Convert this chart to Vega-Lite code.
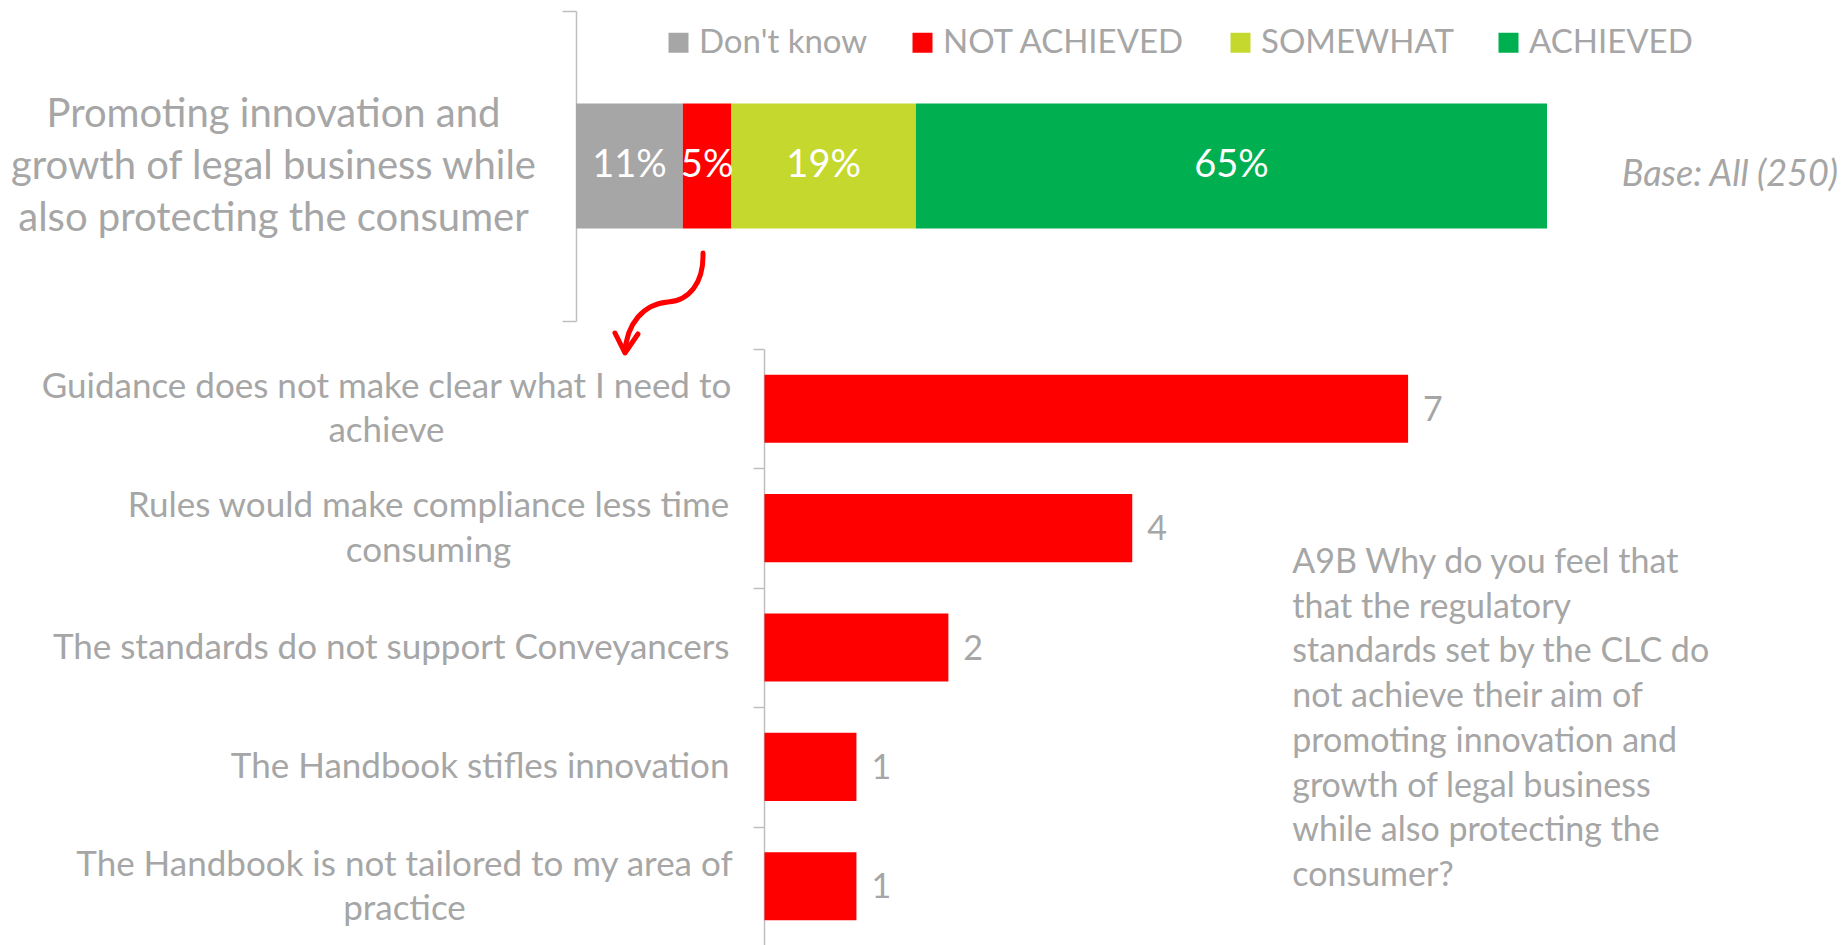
{
  "$schema": "https://vega.github.io/schema/vega-lite/v6.json",
  "background": "white",
  "padding": {"left": 9, "top": 10, "right": 0, "bottom": 0},
  "config": {
    "view": {"stroke": null},
    "font": "Lato",
    "axis": {"labelFont": "Lato"},
    "legend": {"labelFont": "Lato"}
  },
  "spacing": 28,
  "bounds": "flush",
  "vconcat": [
    {
      "width": 971,
      "height": 310,
      "data": {
        "values": [
          {"cat": "Promoting innovation and|growth of legal business while|also protecting the consumer", "resp": "Don't know", "pct": 0.11, "k": 1},
          {"cat": "Promoting innovation and|growth of legal business while|also protecting the consumer", "resp": "NOT ACHIEVED", "pct": 0.05, "k": 2},
          {"cat": "Promoting innovation and|growth of legal business while|also protecting the consumer", "resp": "SOMEWHAT", "pct": 0.19, "k": 3},
          {"cat": "Promoting innovation and|growth of legal business while|also protecting the consumer", "resp": "ACHIEVED", "pct": 0.65, "k": 4}
        ]
      },
      "encoding": {
        "y": {
          "field": "cat",
          "type": "nominal",
          "scale": {"paddingInner": 0, "paddingOuter": 0},
          "axis": {
            "title": null,
            "labelExpr": "split(datum.label, '|')",
            "labelAlign": "center",
            "labelBaseline": "middle",
            "labelPadding": 289,
            "labelLimit": 0,
            "labelFontSize": {"condition": {"test": "datum.label == ''", "value": 0}, "value": 40},
            "labelOffset": {"condition": {"test": "datum.label != ''", "value": -52}, "value": 0},
            "labelLineHeight": 52,
            "labelColor": "#A6A6A6",
            "tickBand": "extent",
            "tickSize": 14,
            "tickColor": "#BFBFBF",
            "tickWidth": 1.5,
            "domainColor": "#BFBFBF",
            "domainWidth": 1.5
          }
        }
      },
      "layer": [
        {
          "mark": {"type": "bar", "height": {"band": 0.403}},
          "encoding": {
            "x": {"field": "pct", "type": "quantitative", "stack": "zero", "scale": {"domain": [0, 1], "nice": false}, "axis": null},
            "order": {"field": "k", "type": "quantitative"},
            "color": {
              "field": "resp",
              "type": "nominal",
              "scale": {
                "domain": ["Don't know", "NOT ACHIEVED", "SOMEWHAT", "ACHIEVED"],
                "range": ["#A6A6A6", "#FF0000", "#C4D82E", "#00B050"]
              },
              "legend": {
                "orient": "none",
                "legendX": 86,
                "legendY": 15,
                "direction": "horizontal",
                "title": null,
                "padding": 0,
                "symbolType": "square",
                "symbolSize": 400,
                "symbolStrokeWidth": 0,
                "labelFontSize": 33,
                "labelColor": "#A6A6A6",
                "labelOffset": 4,
                "columnPadding": 38,
                "labelLimit": 0
              }
            }
          }
        },
        {
          "mark": {"type": "text", "color": "white", "fontSize": 38, "baseline": "middle", "align": "center"},
          "encoding": {
            "x": {"field": "pct", "type": "quantitative", "stack": "zero", "bandPosition": 0.5, "axis": null},
            "order": {"field": "k", "type": "quantitative"},
            "text": {"field": "pct", "type": "quantitative", "format": ".0%"}
          }
        },
        {
          "data": {"values": [{"note": "Base: All (250)"}]},
          "mark": {"type": "text", "color": "#A6A6A6", "fontSize": 36, "fontStyle": "italic", "align": "left", "baseline": "middle", "dy": 9},
          "encoding": {
            "x": {"datum": 1.077},
            "y": {"datum": "Promoting innovation and|growth of legal business while|also protecting the consumer"},
            "text": {"field": "note"}
          }
        },
        {
          "data": {"values": [{"arrow": "NOT ACHIEVED"}]},
          "mark": {
            "type": "point",
            "shape": "M0.78,-1 C0.8,-0.4 0.5,-0.05 0.08,-0.02 C-0.4,0.02 -0.75,0.4 -0.78,1 M-0.98,0.6 L-0.78,1 L-0.52,0.62",
            "size": 10000,
            "filled": false,
            "fill": null,
            "stroke": "#FF0000",
            "strokeWidth": 5,
            "strokeCap": "round",
            "strokeJoin": "round",
            "opacity": 1,
            "yOffset": 137
          },
          "encoding": {
            "x": {"datum": 0.0906},
            "y": {"datum": "Promoting innovation and|growth of legal business while|also protecting the consumer"}
          }
        }
      ]
    },
    {
      "width": 970,
      "height": 597,
      "data": {
        "values": [
          {"reason": "Guidance does not make clear what I need to|achieve", "n": 7},
          {"reason": "Rules would make compliance less time|consuming", "n": 4},
          {"reason": "The standards do not support Conveyancers", "n": 2},
          {"reason": "The Handbook stifles innovation", "n": 1},
          {"reason": "The Handbook is not tailored to my area of|practice", "n": 1}
        ]
      },
      "encoding": {
        "y": {
          "field": "reason",
          "type": "nominal",
          "sort": null,
          "scale": {"paddingInner": 0, "paddingOuter": 0},
          "axis": {
            "title": null,
            "offset": -188,
            "labelExpr": "split(datum.label, '|')",
            "labelAlign": {"condition": {"test": "datum.label && indexof(datum.label, '|') >= 0", "value": "center"}, "value": "right"},
            "labelBaseline": "middle",
            "labelPadding": {
              "condition": [
                {"test": "datum.label == 'Guidance does not make clear what I need to|achieve'", "value": 367},
                {"test": "datum.label == 'Rules would make compliance less time|consuming'", "value": 325},
                {"test": "datum.label == 'The Handbook is not tailored to my area of|practice'", "value": 349}
              ],
              "value": 24
            },
            "labelOffset": {"condition": {"test": "datum.label && indexof(datum.label, '|') >= 0", "value": -22.3}, "value": 0},
            "labelLimit": 0,
            "labelFontSize": {"condition": {"test": "datum.label == ''", "value": 0}, "value": 35},
            "labelLineHeight": 44.6,
            "labelColor": "#A6A6A6",
            "tickBand": "extent",
            "tickSize": 11,
            "tickColor": "#BFBFBF",
            "tickWidth": 1.5,
            "domainColor": "#BFBFBF",
            "domainWidth": 1.5
          }
        }
      },
      "layer": [
        {
          "mark": {"type": "bar", "color": "#FF0000", "height": {"band": 0.57}},
          "encoding": {
            "x": {"field": "n", "type": "quantitative", "scale": {"domain": [-2.05, 8.5], "nice": false}, "axis": null}
          }
        },
        {
          "mark": {"type": "text", "color": "#A6A6A6", "fontSize": 34, "align": "left", "baseline": "middle", "dx": 15, "dy": 2},
          "encoding": {
            "x": {"field": "n", "type": "quantitative", "axis": null},
            "text": {"field": "n", "type": "quantitative"}
          }
        },
        {
          "data": {"values": [{"q": "A9B"}]},
          "mark": {
            "type": "text",
            "color": "#A6A6A6",
            "fontSize": 34,
            "align": "left",
            "baseline": "middle",
            "lineHeight": 44.7,
            "dy": 35,
            "text": ["A9B Why do you feel that", "that the regulatory", "standards set by the CLC do", "not achieve their aim of", "promoting innovation and", "growth of legal business", "while also protecting the", "consumer?"]
          },
          "encoding": {
            "x": {"datum": 5.74},
            "y": {"datum": "Rules would make compliance less time|consuming"}
          }
        }
      ]
    }
  ]
}
